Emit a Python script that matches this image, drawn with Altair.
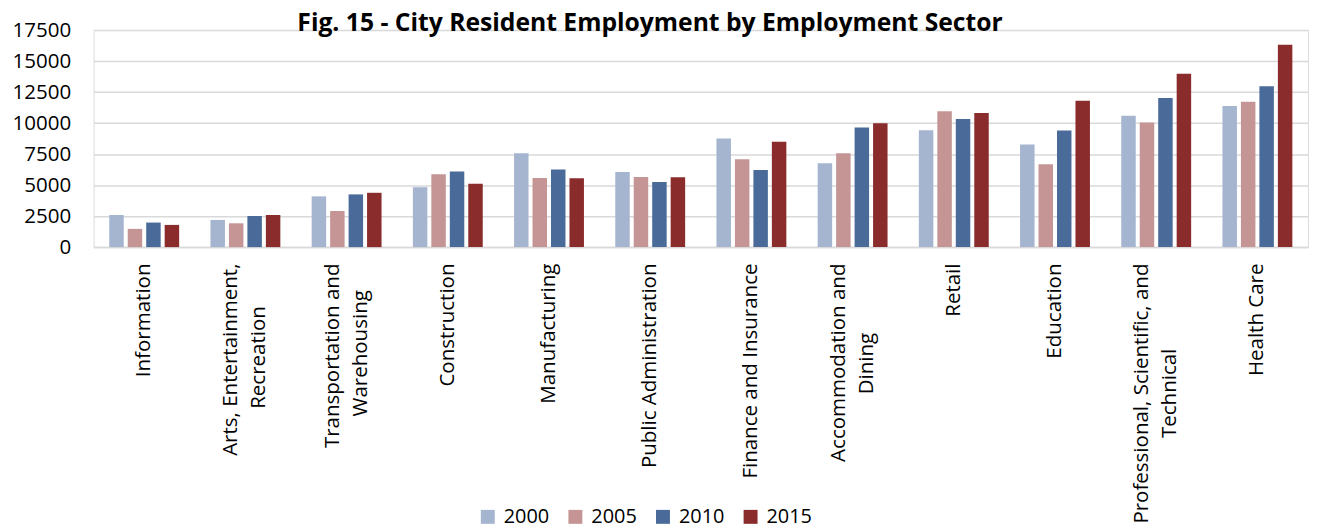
import altair as alt
import pandas as pd

# ---------------- data ----------------
sectors = [
    "Information",
    "Arts, Entertainment, Recreation",
    "Transportation and Warehousing",
    "Construction",
    "Manufacturing",
    "Public Administration",
    "Finance and Insurance",
    "Accommodation and Dining",
    "Retail",
    "Education",
    "Professional, Scientific, and Technical",
    "Health Care",
]
years = ["2000", "2005", "2010", "2015"]
v2000 = [2590, 2190, 4090, 4830, 7560, 6060, 8760, 6760, 9430, 8280, 10600, 11380]
v2005 = [1470, 1920, 2910, 5880, 5580, 5660, 7080, 7560, 10950, 6680, 10040, 11720]
v2010 = [1980, 2510, 4250, 6090, 6250, 5240, 6220, 9640, 10340, 9400, 12020, 12980]
v2015 = [1790, 2590, 4380, 5100, 5560, 5640, 8490, 9990, 10820, 11800, 13970, 16320]
y_ticks = [0, 2500, 5000, 7500, 10000, 12500, 15000, 17500]
title_text = "Fig. 15 - City Resident Employment by Employment Sector"

# how the long category names wrap on the axis
label_lines = {
    "Arts, Entertainment, Recreation": ["Arts, Entertainment,", "Recreation"],
    "Transportation and Warehousing": ["Transportation and", "Warehousing"],
    "Accommodation and Dining": ["Accommodation and", "Dining"],
    "Professional, Scientific, and Technical": ["Professional, Scientific, and", "Technical"],
}

colors = ["#A5B5CF", "#C49594", "#4A6B9A", "#8A2C2C"]
FONT = "Open Sans"
FS = 20.6
LH = 28

# ---------------- table ----------------
series = {"2000": v2000, "2005": v2005, "2010": v2010, "2015": v2015}
rows = []
for y in years:
    for s, v in zip(sectors, series[y]):
        rows.append({"sector": s, "year": y, "value": v})
df = pd.DataFrame(rows)

# approximate Open Sans advance widths (em) to centre wrapped lines
_w = {" ": .26, ",": .25, ".": .27, "i": .258, "l": .258, "t": .35, "f": .336, "r": .408,
      "j": .258, "I": .279, "a": .556, "c": .479, "e": .561, "g": .55, "n": .613, "o": .602,
      "s": .477, "h": .613, "u": .613, "m": .93, "d": .613, "p": .613, "b": .613, "y": .5,
      "C": .63, "T": .556, "W": .926, "D": .712, "R": .627, "P": .602, "S": .549, "A": .633,
      "E": .556, "H": .739}


def est(s):
    return sum(_w.get(ch, .57) for ch in s)


def js_lines(lines):
    longest = max(est(l) for l in lines)
    out = []
    for l in lines:
        pad = int(round((longest - est(l)) / 2 / 0.26))
        # no-break spaces, closed by a zero-width space so they are not trimmed
        out.append("'" + l + ("\u00a0" * pad + "\u200b" if pad else "") + "'")
    return "[" + ", ".join(out) + "]"


expr = "datum.label"
for cat, lines in label_lines.items():
    expr = "datum.value == '" + cat + "' ? " + js_lines(lines) + " : (" + expr + ")"

wrapped_test = "indexof([" + ", ".join("'" + c + "'" for c in label_lines) + "], datum.value) >= 0"

GRID = "#D9D9D9"

chart = alt.Chart(df).mark_bar().encode(
    x=alt.X(
        "sector:N",
        sort=sectors,
        scale=alt.Scale(paddingInner=0.27, paddingOuter=0.135),
        axis=alt.Axis(
            title=None,
            labelAngle=270,
            labelAlign="right",
            labelBaseline="middle",
            labelExpr=expr,
            labelLimit=600,
            labelPadding=16,
            labelOffset={"condition": {"test": wrapped_test, "value": -LH / 2}, "value": 0},
            ticks=False,
            tickSize=0,
            domainColor=GRID,
            domainWidth=1.5,
            labelFont=FONT,
            labelFontSize=FS,
            labelColor="#000000",
            labelLineHeight=LH,
            labelOverlap=False,
        ),
    ),
    xOffset=alt.XOffset(
        "year:N", sort=years, scale=alt.Scale(paddingInner=0.216, paddingOuter=0.108)
    ),
    y=alt.Y(
        "value:Q",
        scale=alt.Scale(domain=[0, 17500], nice=False),
        axis=alt.Axis(
            title=None,
            values=y_ticks,
            format="d",
            grid=True,
            gridColor=GRID,
            gridWidth=1.5,
            domain=False,
            ticks=False,
            tickSize=0,
            labelPadding=23,
            labelFont=FONT,
            labelFontSize=FS,
            labelColor="#000000",
        ),
    ),
    color=alt.Color(
        "year:N",
        sort=years,
        scale=alt.Scale(domain=years, range=colors),
        legend=alt.Legend(
            title=None,
            orient="none",
            legendX=386,
            legendY=479,
            direction="horizontal",
            symbolType="square",
            symbolSize=196,
            symbolStrokeWidth=0,
            labelFont=FONT,
            labelFontSize=20,
            labelColor="#000000",
            labelOffset=6,
            columnPadding=16,
            padding=0,
        ),
    ),
).properties(
    width=1220,
    height=218,
    autosize=alt.AutoSizeParams(type="none"),
    padding={"left": 86, "top": 21, "right": 1, "bottom": 282},
    title=alt.TitleParams(
        title_text,
        font=FONT,
        fontSize=24.8,
        fontWeight="bold",
        color="#000000",
        anchor="middle",
        baseline="alphabetic",
        dx=-51,
        offset=-36,
    ),
).configure_view(stroke=None).configure(background="white")

chart.save("out.html", embed_options={"renderer": "svg", "actions": False})
